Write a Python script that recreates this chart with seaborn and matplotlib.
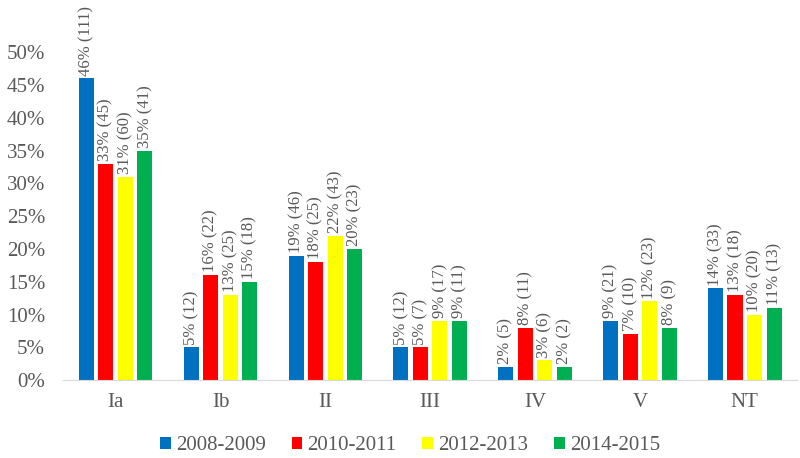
import pandas as pd
import matplotlib.pyplot as plt
import seaborn as sns
from matplotlib.ticker import PercentFormatter

# Categories and periods
categories = ['Ia', 'Ib', 'II', 'III', 'IV', 'V', 'NT']
periods = ['2008-2009', '2010-2011', '2012-2013', '2014-2015']

# Percentages per period
pct_0809 = [46, 5, 19, 5, 2, 9, 14]
pct_1011 = [33, 16, 18, 5, 8, 7, 13]
pct_1213 = [31, 13, 22, 9, 3, 12, 10]
pct_1415 = [35, 15, 20, 9, 2, 8, 11]

# Counts per period
n_0809 = [111, 12, 46, 12, 5, 21, 33]
n_1011 = [45, 22, 25, 7, 11, 10, 18]
n_1213 = [60, 25, 43, 17, 6, 23, 20]
n_1415 = [41, 18, 23, 11, 2, 9, 13]

pcts = [pct_0809, pct_1011, pct_1213, pct_1415]
counts = [n_0809, n_1011, n_1213, n_1415]
colors = ['#0070C0', '#FF0000', '#FFFF00', '#00B050']

rows = []
for period, p_list in zip(periods, pcts):
    for cat, p in zip(categories, p_list):
        rows.append({'Category': cat, 'Period': period, 'Share': p / 100})
df = pd.DataFrame(rows)

sns.set_style('white')
plt.rcParams['font.family'] = ['Liberation Serif', 'DejaVu Serif']
text_color = '#595959'

fig = plt.figure(figsize=(8, 4.58), dpi=100)
ax = fig.add_axes([0.079, 0.170, 0.9175, 0.716])

sns.barplot(data=df, x='Category', y='Share', hue='Period', order=categories,
            hue_order=periods, palette=colors, width=0.745, saturation=1,
            ax=ax, edgecolor='none')

# Leave a small white gap between neighbouring bars
for cont in ax.containers:
    for bar in cont:
        w = bar.get_width()
        bar.set_x(bar.get_x() + w * 0.115)
        bar.set_width(w * 0.77)

# Rotated value labels above each bar
for cont, p_list, n_list in zip(ax.containers, pcts, counts):
    labels = [f'{p}% ({n})' for p, n in zip(p_list, n_list)]
    txts = ax.bar_label(cont, labels=labels, rotation=90, padding=2,
                        fontsize=12, color=text_color)
    for t in txts:
        t.set_clip_on(False)

ax.set_ylim(0, 0.5)
ax.set_yticks([i / 100 for i in range(0, 51, 5)])
ax.yaxis.set_major_formatter(PercentFormatter(1.0, decimals=0))
ax.set_xlim(-0.5, len(categories) - 0.5)
ax.set_xlabel('')
ax.set_ylabel('')
ax.tick_params(axis='y', labelsize=15, colors=text_color, length=0, pad=13)
ax.tick_params(axis='x', labelsize=15, colors=text_color, length=0, pad=9)

for side in ['top', 'right', 'left']:
    ax.spines[side].set_visible(False)
ax.spines['bottom'].set_color('#d9d9d9')

ax.legend(loc='center', bbox_to_anchor=(0.4725, -0.20), ncol=4,
          frameon=False, fontsize=15, handlelength=0.5, handleheight=0.5,
          handletextpad=0.25, columnspacing=1.25, labelcolor=text_color)

fig.savefig('out.png', dpi=100)
